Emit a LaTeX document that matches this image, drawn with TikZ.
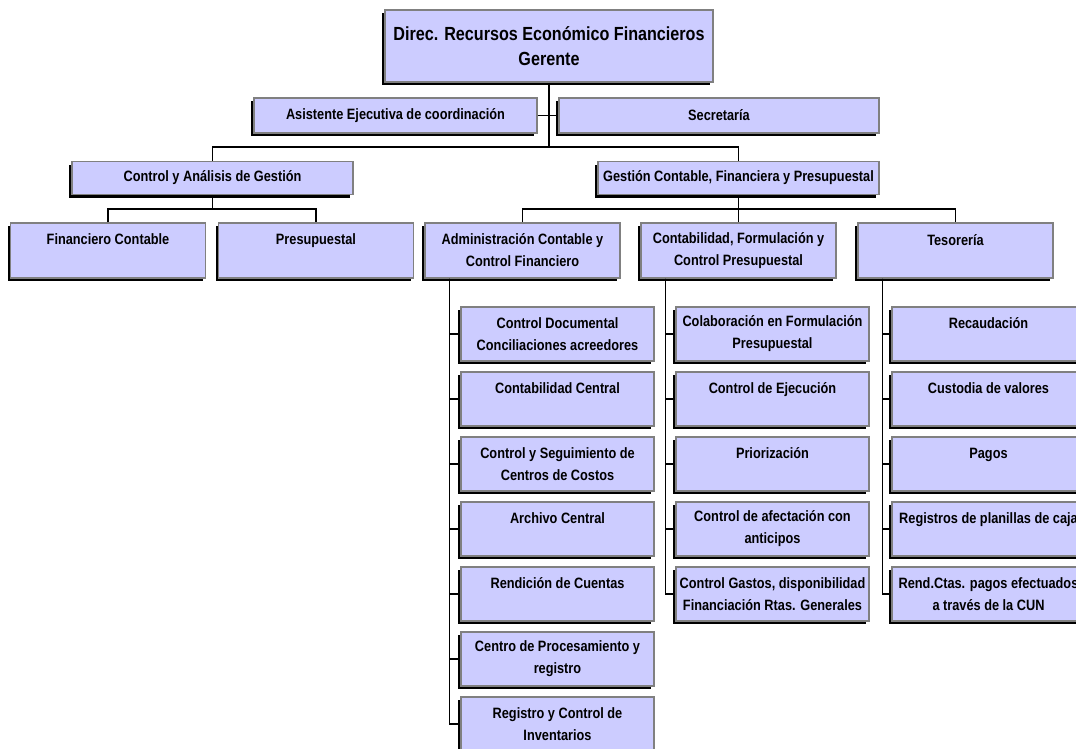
\documentclass[tikz,border=0pt]{standalone}
\usepackage{fontspec}
\setmainfont{Liberation Sans}[FakeStretch=0.85]
\usetikzlibrary{shadows}
\definecolor{boxfill}{HTML}{CCCCFF}

\tikzstyle{unit}=[%
	draw = gray,
	line width = 1.2pt,
	fill = boxfill,
	drop shadow = {shadow xshift=-3pt, shadow yshift=-3pt, fill=black, opacity=1},
	font = \bfseries\fontsize{15}{22}\selectfont,
	align = center,
	inner sep = 0pt
]
\tikzstyle{link}=[line width = 1.2pt, black]

\begin{document}
\begin{tikzpicture}[x=1pt, y=-1pt]
	\def\cw{193pt}
	\def\ch{54pt}

	% Background, frame
	\useasboundingbox (0,0) rectangle (1076,749);
	\clip (0,0) rectangle (1076,749);

	% Direction and staff
	\node[unit, minimum width=328pt, minimum height=72pt, font=\bfseries\fontsize{19}{25}\selectfont] (dir) at (549,46) {Direc. Recursos Económico Financieros\\Gerente};
	\node[unit, minimum width=283pt, minimum height=35pt] (asis) at (395.5,115.5) {Asistente Ejecutiva de coordinación};
	\node[unit, minimum width=320pt, minimum height=35pt] (secr) at (719,115.5) {Secretaría};

	% Second level
	\node[unit, minimum width=281pt, minimum height=33pt] (cag) at (212.5,178) {Control y Análisis de Gestión};
	\node[unit, minimum width=281pt, minimum height=33pt] (gcfp) at (738.5,178) {Gestión Contable, Financiera y Presupuestal};

	% Third level
	\foreach \n/\x/\t in {fin/108/{Financiero Contable\\~}, pre/316/{Presupuestal\\~}, acf/522.5/{Administración Contable y\\Control Financiero}, cfp/738.5/{Contabilidad, Formulación y\\Control Presupuestal}, tes/955.5/{Tesorería\\~}} {
		\node[unit, minimum width=195pt, minimum height=55pt] (\n) at (\x,250.5) {\t};
	}

	% Links between levels
	\coordinate (bus1) at (549,147);
	\coordinate (bus2) at (212.5,209);
	\coordinate (bus3) at (738.5,209);
	\draw[link] (dir.south) -- (bus1);
	\draw[link] (asis.east) -- (secr.west);
	\draw[link] (cag.north) |- (bus1) -| (gcfp.north);
	\draw[link] (cag.south) -- (bus2);
	\draw[link] (fin.north) |- (bus2) -| (pre.north);
	\draw[link] (gcfp.south) -- (bus3);
	\draw[link] (acf.north) |- (bus3) -| (tes.north);
	\draw[link] (cfp.north) -- (bus3);

	% Units of Administración Contable
	\foreach \t [count=\i] in {{Control Documental\\Conciliaciones acreedores}, {Contabilidad Central\\~}, {Control y Seguimiento de\\Centros de Costos}, {Archivo Central\\~}, {Rendición de Cuentas\\~}, {Centro de Procesamiento y\\registro}, {Registro y Control de\\Inventarios}} {
		\node[unit, minimum width=\cw, minimum height=\ch] (acf\i) at (557.5,{334+65*(\i-1)}) {\t};
		\draw[link] ([xshift=25pt]acf.south west) |- (acf\i.west);
	}

	% Units of Contabilidad
	\foreach \t [count=\i] in {{Colaboración en Formulación\\Presupuestal}, {Control de Ejecución\\~}, {Priorización\\~}, {Control de afectación con\\anticipos}, {Control Gastos, disponibilidad\\Financiación Rtas. Generales}} {
		\node[unit, minimum width=\cw, minimum height=\ch] (cfp\i) at (772.5,{334+65*(\i-1)}) {\t};
		\draw[link] ([xshift=25pt]cfp.south west) |- (cfp\i.west);
	}

	% Units of Tesorería
	\foreach \t [count=\i] in {{Recaudación\\~}, {Custodia de valores\\~}, {Pagos\\~}, {Registros de planillas de caja\\~}, {Rend.Ctas. pagos efectuados\\a través de la CUN}} {
		\node[unit, minimum width=\cw, minimum height=\ch] (tes\i) at (988.5,{334+65*(\i-1)}) {\t};
		\draw[link] ([xshift=25pt]tes.south west) |- (tes\i.west);
	}

\end{tikzpicture}
\end{document}
